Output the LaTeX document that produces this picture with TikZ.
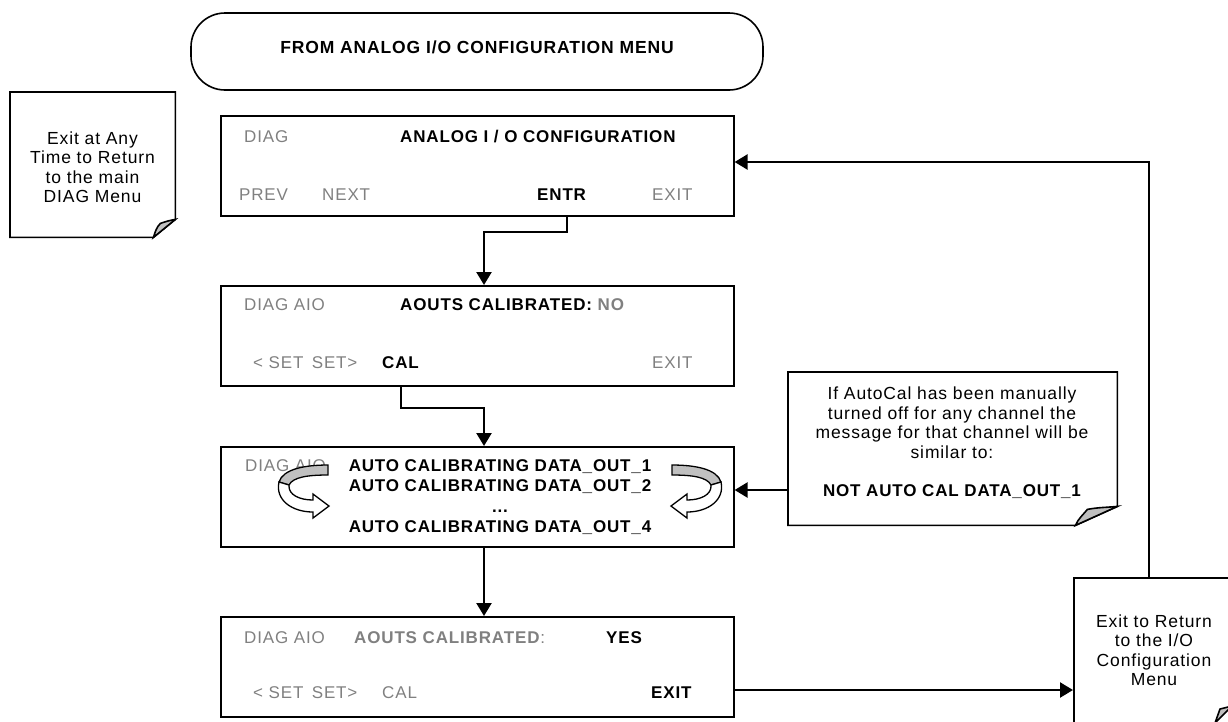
\documentclass[tikz,border=0pt]{standalone}
\usepackage{fontspec}
\setmainfont{Liberation Sans}[LetterSpace=5]
\usetikzlibrary{arrows.meta}
\definecolor{tg}{RGB}{128,128,128}
\definecolor{flap}{RGB}{192,192,192}
\begin{document}
\begin{tikzpicture}[x=1pt,y=-1pt,
  scr/.style={draw, line width=1.6pt, minimum width=513pt, minimum height=100pt, inner sep=0pt, anchor=north west},
  txt/.style={font=\fontsize{17}{20}\selectfont, inner sep=0pt, anchor=west},
  gtxt/.style={txt, text=tg},
  btxt/.style={txt, font=\fontsize{17}{20}\selectfont\bfseries},
  ntxt/.style={font=\fontsize{17.5}{19.5}\selectfont, align=center, inner sep=0pt},
  arr/.style={line width=2.4pt, -{Triangle[length=13pt,width=15pt]}},
  outline/.style={line width=1.6pt, line join=miter},
  hole/.style={inner sep=0pt, anchor=north west},
  rotarr/.pic={
    \filldraw[outline, line width=1.3pt, fill=flap] (28,-25) .. controls (5,-25) and (-17,-21) .. (-21,-8) -- (-11,-5) .. controls (-7,-13) and (8,-15) .. (28,-15) -- cycle;
    \filldraw[outline, line width=1.3pt, fill=white] (-11,-5) .. controls (-12,5) and (0,10) .. (13,10) -- (13,4) -- (29,16) -- (13,28) -- (13,22) .. controls (-8,22) and (-25,10) .. (-21,-8) -- cycle;
  },
]
\useasboundingbox (0,0) rectangle (1228,721);
\clip (0,0) rectangle (1228,721);

% top terminator
\node[draw, line width=1.6pt, rounded corners=34pt, minimum width=572pt, minimum height=77pt, inner sep=0pt] (from) at (477,51.5) {};
\node[btxt, anchor=center, font=\fontsize{17.5}{20}\selectfont\bfseries] (fromtxt) at (477,47) {FROM ANALOG I/O CONFIGURATION MENU};

% note 1
\node[hole, minimum width=165pt, minimum height=145pt] (n1) at (10,92) {};
\draw[outline] (n1.north west) -- (n1.north east) -- ([yshift=18pt]n1.south east) -- ([xshift=-22pt]n1.south east) -- (n1.south west) -- cycle;
\filldraw[outline, fill=flap] ([xshift=-22pt]n1.south east) .. controls +(2pt,6pt) and +(-4pt,-4pt) .. ([xshift=-15pt,yshift=14pt]n1.south east) .. controls +(6pt,2pt) and +(-6pt,-1pt) .. ([yshift=18pt]n1.south east) -- cycle;
\node[ntxt] (n1t) at (92.5,167) {Exit at Any\\Time to Return\\to the main\\DIAG Menu};

% box 1
\node[scr] (b1) at (220,115) {};
\node[gtxt] (b1a) at (244,137) {DIAG};
\node[btxt] (b1b) at (400,137) {ANALOG I / O CONFIGURATION};
\node[gtxt] (b1c) at (239,195) {PREV};
\node[gtxt] (b1d) at (322,195) {NEXT};
\node[btxt] (b1e) at (537,195) {ENTR};
\node[gtxt] (b1f) at (652,195) {EXIT};

% box 2
\node[scr] (b2) at (220,285) {};
\node[gtxt] (b2a) at (244,305) {DIAG AIO};
\node[btxt] (b2b) at (400,305) {AOUTS CALIBRATED: \textcolor{tg}{NO}};
\node[gtxt] (b2c) at (253,363) {< SET\, SET>};
\node[btxt] (b2d) at (382,363) {CAL};
\node[gtxt] (b2e) at (652,363) {EXIT};

% box 3
\node[scr] (b3) at (220,446) {};
\node[gtxt] (b3a) at (245,466) {DIAG AIO};
\node[btxt, anchor=center, align=center, font=\fontsize{17}{20.5}\selectfont\bfseries] (b3b) at (500,497) {AUTO CALIBRATING DATA\_OUT\_1\\AUTO CALIBRATING DATA\_OUT\_2\\...\\AUTO CALIBRATING DATA\_OUT\_4};
\pic at (300,490) {rotarr};
\pic[xscale=-1] at (700,490) {rotarr};

% box 4
\node[scr] (b4) at (220,616) {};
\node[gtxt] (b4a) at (244,638) {DIAG AIO};
\node[gtxt] (b4b) at (354,638) {\textbf{AOUTS CALIBRATED}:};
\node[btxt] (b4c) at (606,638) {YES};
\node[gtxt] (b4d) at (253,693) {< SET\, SET>};
\node[gtxt] (b4e) at (382,693) {CAL};
\node[btxt] (b4f) at (651,693) {EXIT};

% note 2
\node[hole, minimum width=329pt, minimum height=153pt] (n2) at (788,372) {};
\draw[outline] (n2.north west) -- (n2.north east) -- ([yshift=19pt]n2.south east) -- ([xshift=-42pt]n2.south east) -- (n2.south west) -- cycle;
\filldraw[outline, fill=flap] ([xshift=-42pt]n2.south east) .. controls +(3pt,7pt) and +(-4pt,-5pt) .. ([xshift=-30pt,yshift=16pt]n2.south east) .. controls +(10pt,2pt) and +(-10pt,-1pt) .. ([yshift=19pt]n2.south east) -- cycle;
\node[ntxt] (n2t) at (952,422.5) {If AutoCal has been manually\\turned off for any channel the\\message for that channel will be\\similar to:};
\node[btxt, anchor=center] (n2b) at (952,492) {NOT AUTO CAL DATA\_OUT\_1};

% exit box
\node[draw, outline, hole, minimum width=220pt, minimum height=200pt] (ex) at (1073,577) {};
\node[ntxt] (ext) at (1154,650) {Exit to Return\\to the I/O\\Configuration\\Menu};
\filldraw[outline, fill=flap] (1215,723) -- (1220,709) -- (1232,706) -- cycle;

% connectors
\coordinate (k1) at (567,232);
\coordinate (k2) at (484,232);
\draw[arr] (b1.south -| k1) -- (k1) -- (k2) -- (b2.north -| k2);
\coordinate (k3) at (401,408);
\coordinate (k4) at (484,408);
\draw[arr] (b2.south -| k3) -- (k3) -- (k4) -- (b3.north -| k4);
\draw[arr] (b3.south -| k4) -- (b4.north -| k4);
\coordinate (k5) at (0,690);
\draw[arr] (b4.east |- k5) -- (ex.west |- k5);
\coordinate (k6) at (1149,162);
\draw[arr] (ex.north -| k6) -- (k6) -- (b1.east |- k6);
\coordinate (k7) at (0,490);
\draw[arr] (n2.west |- k7) -- (b3.east |- k7);
\end{tikzpicture}
\end{document}
